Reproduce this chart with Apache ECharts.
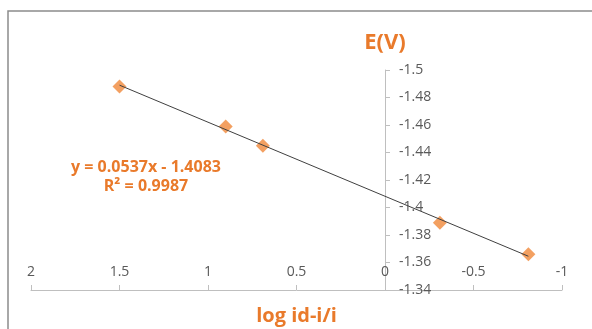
<!DOCTYPE html>
<html>
<head>
<meta charset="utf-8">
<script src="https://cdn.jsdelivr.net/npm/echarts@6/dist/echarts.min.js"></script>
<style>
  html, body { margin: 0; padding: 0; background: #fff; }
  #chart { width: 592px; height: 329px; }
</style>
</head>
<body>
<div id="chart"></div>
<script>
// data
var logRatio = [1.5, 0.9, 0.69, -0.31, -0.81];
var potential = [-1.488, -1.459, -1.445, -1.389, -1.366];
var equationText = 'y = 0.0537x - 1.4083';
var r2Text = 'R\u00b2 = 0.9987';

var orange = '#E97A2B';
var font = '"Open Sans", "Liberation Sans", sans-serif';

// least squares trend line over the data range
function fitLine(xs, ys) {
  var n = xs.length, sx = 0, sy = 0, sxx = 0, sxy = 0;
  for (var i = 0; i < n; i++) {
    sx += xs[i]; sy += ys[i]; sxx += xs[i] * xs[i]; sxy += xs[i] * ys[i];
  }
  var b = (n * sxy - sx * sy) / (n * sxx - sx * sx);
  var a = (sy - b * sx) / n;
  var lo = Math.min.apply(null, xs), hi = Math.max.apply(null, xs);
  return [[hi, a + b * hi], [lo, a + b * lo]];
}

var points = logRatio.map(function (x, i) { return [x, potential[i]]; });
var trend = fitLine(logRatio, potential);

function fmt(v) { return String(parseFloat(v.toFixed(2))); }

var chart = echarts.init(document.getElementById('chart'));

var option = {
  backgroundColor: '#ffffff',
  animation: false,
  grid: { left: 31, right: 30, top: 70, bottom: 39, outerBoundsMode: 'none', containLabel: false },
  xAxis: {
    type: 'value',
    min: -1, max: 2, interval: 0.5,
    inverse: true,
    position: 'bottom',
    name: 'log id-i/i',
    nameLocation: 'middle',
    nameGap: 16,
    nameTextStyle: { color: orange, fontSize: 20, fontWeight: 'bold', fontFamily: font },
    axisLine: { onZero: false, lineStyle: { color: '#BFBFBF', width: 1 } },
    axisTick: { show: true, inside: true, length: 5, lineStyle: { color: '#BFBFBF' } },
    axisLabel: { inside: true, margin: 11, color: '#595959', fontSize: 14, fontFamily: font, formatter: fmt },
    splitLine: { show: false }
  },
  yAxis: {
    type: 'value',
    min: -1.5, max: -1.34, interval: 0.02,
    inverse: true,
    position: 'right',
    name: 'E(V)',
    nameLocation: 'start',
    nameGap: 16,
    nameTextStyle: { color: orange, fontSize: 22, fontWeight: 'bold', fontFamily: font, align: 'center' },
    axisLine: { onZero: true, onZeroAxisIndex: 0, lineStyle: { color: '#BFBFBF', width: 1 } },
    axisTick: { show: true, length: 5, lineStyle: { color: '#BFBFBF' } },
    axisLabel: { margin: 14, color: '#595959', fontSize: 14, fontFamily: font, formatter: fmt },
    splitLine: { show: false }
  },
  graphic: [
    {
      type: 'rect', silent: true,
      shape: { x: 8, y: 11, width: 620, height: 340 },
      style: { fill: 'none', stroke: '#8C8C8C', lineWidth: 1.5 }
    },
    {
      type: 'text', x: 146, y: 167,
      style: { text: equationText, fill: orange, font: 'bold 16px ' + font, align: 'center', verticalAlign: 'middle' }
    },
    {
      type: 'text', x: 146, y: 186,
      style: { text: r2Text, fill: orange, font: 'bold 16px ' + font, align: 'center', verticalAlign: 'middle' }
    }
  ],
  series: [
    {
      type: 'line',
      data: trend,
      symbol: 'none',
      lineStyle: { color: '#404040', width: 1 },
      z: 3
    },
    {
      type: 'scatter',
      data: points,
      symbol: 'diamond',
      symbolSize: 14,
      itemStyle: { color: '#F0883A' },
      z: 2
    }
  ]
};

chart.setOption(option);

// if the value axis did not land on x = 0, shift it there
var zeroX = chart.convertToPixel({ xAxisIndex: 0 }, 0);
var rightEdge = 592 - option.grid.right;
if (Math.abs(zeroX - rightEdge) > 2) {
  chart.setOption({ yAxis: { axisLine: { onZero: false }, offset: zeroX - rightEdge } });
}
</script>
</body>
</html>
